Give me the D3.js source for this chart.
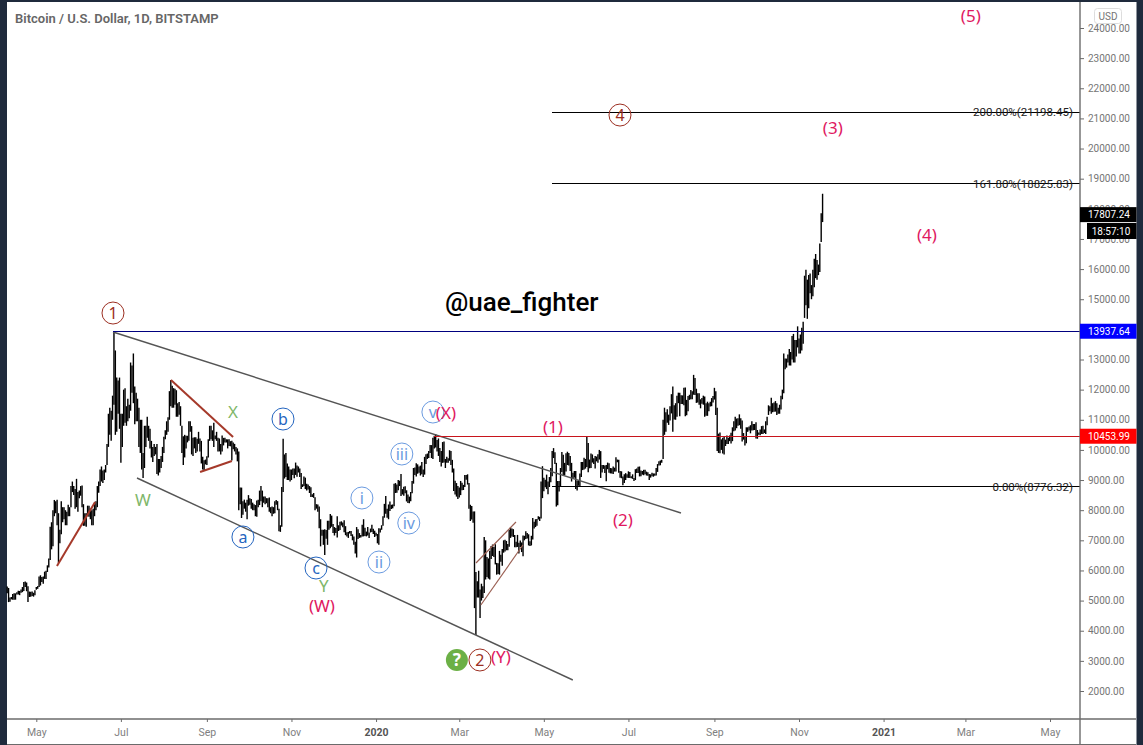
<!DOCTYPE html>
<html>

<head>
    <title>Bitcoin / U.S. Dollar, 1D, BITSTAMP</title>
    <script src="https://cdn.jsdelivr.net/npm/d3@7"></script>
    <style>
        html, body { margin: 0; padding: 0; background: #1f2a3c; }
        svg { display: block; }
        text { font-family: Roboto, sans-serif; }
        .mark { font-family: "Noto Sans", sans-serif; }
    </style>
</head>

<body>
    <svg></svg>
    <script>
        const width = 1143;
        const height = 745;

        // daily bars, one inner list per month
        const monthStarts = ["2019-04-10", "2019-05-01", "2019-06-01", "2019-07-01", "2019-08-01", "2019-09-01", "2019-10-01", "2019-11-01", "2019-12-01",
            "2020-01-01", "2020-02-01", "2020-03-01", "2020-04-01", "2020-05-01", "2020-06-01", "2020-07-01", "2020-08-01", "2020-09-01", "2020-10-01", "2020-11-01"];

        const monthHighs = [
            [5470, 5420, 5100, 5120, 5220, 5240, 5240, 5280, 5330, 5320, 5370, 5450, 5620, 5630, 5600, 5480, 5300, 5290, 5300, 5260, 5340],
            [5450, 5480, 5800, 5840, 5780, 5800, 5960, 5990, 6170, 6400, 7450, 7600, 8000, 8340, 8300, 8350, 7900, 7350, 8300, 8100, 8100, 8000, 7950, 8180, 8100, 8800, 8950, 8800, 8700, 9040, 8600],
            [8650, 8800, 8820, 8200, 7900, 7900, 8150, 8150, 8050, 8000, 8050, 8200, 8300, 8800, 8950, 9350, 9450, 9320, 9350, 9500, 10200, 11200, 11400, 11300, 11800, 13880, 13300, 12400, 12300, 12400],
            [11200, 11200, 12000, 12050, 11450, 11700, 11500, 12900, 12800, 13200, 12100, 11900, 11700, 11400, 11000, 11000, 9900, 10800, 10800, 11100, 10800, 10700, 10300, 10100, 10200, 10100, 10200, 9700, 9700, 9800, 10100],
            [10440, 10650, 10950, 11080, 11950, 12320, 12130, 12050, 12030, 11980, 11550, 11590, 11450, 10800, 10450, 10500, 10470, 10470, 10950, 10950, 10790, 10400, 10420, 10420, 10370, 10600, 10380, 10300, 9770, 9660, 9680],
            [9790, 10350, 10800, 10800, 10650, 10900, 10480, 10600, 10400, 10380, 10200, 10480, 10400, 10400, 10350, 10350, 10350, 10290, 10300, 10250, 10200, 10100, 10050, 9950, 8750, 8750, 8300, 8350, 8250, 8350],
            [8500, 8400, 8370, 8250, 8200, 8170, 8320, 8350, 8650, 8800, 8650, 8450, 8450, 8400, 8400, 8420, 8100, 8120, 8100, 8300, 8340, 8300, 8050, 7500, 8770, 10370, 9850, 9900, 9550, 9450, 9350],
            [9350, 9380, 9380, 9580, 9480, 9450, 9380, 9230, 8860, 9120, 9080, 8880, 8850, 8800, 8760, 8530, 8570, 8430, 8200, 8190, 8120, 7700, 7350, 7350, 7370, 7340, 7650, 7650, 7870, 7820],
            [7540, 7440, 7410, 7800, 7500, 7620, 7630, 7590, 7670, 7470, 7270, 7280, 7310, 7310, 7200, 7130, 6950, 7440, 7370, 7240, 7180, 7520, 7700, 7420, 7290, 7440, 7260, 7390, 7520, 7380, 7320],
            [7250, 7210, 7400, 7390, 7500, 7800, 8210, 8470, 8050, 8190, 8290, 8180, 8190, 8880, 8900, 8850, 9000, 8980, 9200, 8700, 8780, 8790, 8660, 8520, 8450, 8600, 8970, 9400, 9420, 9560, 9520],
            [9450, 9480, 9600, 9350, 9770, 9860, 9880, 9960, 10160, 10160, 10400, 10470, 10520, 10330, 10380, 10060, 9960, 10260, 10280, 9700, 9770, 9720, 9990, 9960, 9670, 9380, 8980, 8900, 8800],
            [8750, 8970, 8910, 8840, 9170, 9170, 9190, 8900, 8180, 8140, 7960, 7960, 5950, 5640, 5990, 5370, 5560, 5480, 7110, 7000, 6450, 6400, 6650, 6810, 6860, 6780, 6870, 6250, 6240, 6650, 6520],
            [6710, 7000, 7020, 6980, 6880, 7350, 7430, 7390, 7370, 7180, 6950, 7180, 6920, 6990, 6930, 7160, 7150, 7300, 7240, 7200, 6970, 7150, 7740, 7620, 7700, 7710, 7800, 7780, 8950, 9460],
            [9080, 9010, 9180, 8950, 9100, 9400, 9960, 10060, 9920, 9570, 8970, 8970, 9400, 9930, 9840, 9570, 9890, 9940, 9900, 9800, 9570, 9240, 9300, 9300, 8980, 8990, 9220, 9600, 9600, 9740, 9700],
            [10430, 10230, 9680, 9880, 9850, 9720, 9800, 9780, 9860, 10000, 9960, 9500, 9500, 9480, 9500, 9580, 9560, 9400, 9390, 9450, 9410, 9760, 9680, 9670, 9300, 9290, 9120, 9190, 9230, 9190],
            [9290, 9270, 9130, 9190, 9070, 9360, 9380, 9440, 9450, 9320, 9300, 9340, 9340, 9280, 9260, 9200, 9190, 9240, 9220, 9220, 9400, 9530, 9620, 9650, 9670, 11000, 11400, 11250, 11350, 11170, 11450],
            [11850, 12100, 11480, 11550, 11800, 11900, 11900, 11810, 11810, 12060, 12070, 11660, 11790, 11830, 11990, 11950, 12490, 12390, 12030, 11880, 11880, 11680, 11720, 11800, 11770, 11550, 11600, 11550, 11600, 11720, 11790],
            [12060, 11950, 11400, 10540, 10580, 10350, 10400, 10440, 10340, 10480, 10400, 10480, 10570, 10750, 10950, 11100, 11040, 11050, 11180, 11050, 10980, 10560, 10450, 10750, 10750, 10780, 10820, 10950, 10860, 10860],
            [10920, 10660, 10580, 10680, 10790, 10800, 10680, 10950, 11100, 11480, 11450, 11730, 11550, 11570, 11620, 11550, 11400, 11500, 11800, 12000, 13200, 13030, 13030, 13170, 13350, 13250, 13780, 13850, 13650, 13650, 14100],
            [13700, 13830, 14050, 14250, 15780, 15980, 15650, 15800, 15850, 15470, 15980, 16340, 16500, 16300, 16150, 16850, 17850, 18500]
        ];

        const monthLows = [
            [5240, 4950, 4960, 5040, 5030, 5030, 5030, 5200, 5200, 5180, 5260, 5280, 5320, 5450, 5310, 4950, 5120, 5130, 5150, 5130, 5180],
            [5360, 5390, 5450, 5500, 5620, 5560, 5720, 5720, 5950, 6100, 6350, 6700, 6800, 7800, 7900, 7500, 6250, 6900, 7200, 7600, 7700, 7500, 7500, 7800, 7800, 8100, 8600, 8500, 8050, 8100, 7950],
            [8400, 8480, 8100, 7480, 7480, 7450, 7800, 7780, 7700, 7500, 7500, 7800, 8000, 8100, 8580, 8800, 8950, 8900, 9000, 9250, 9500, 10100, 10500, 10300, 11000, 11500, 10500, 10600, 11200, 10700],
            [9570, 10100, 10800, 10900, 10800, 10950, 11050, 11300, 11900, 11550, 10850, 10950, 10950, 10100, 9900, 9350, 9070, 9400, 10100, 10400, 10300, 10050, 9750, 9600, 9800, 9850, 9200, 9150, 9250, 9400, 9600],
            [9900, 10350, 10500, 10600, 11000, 11450, 11400, 11400, 11500, 11100, 11100, 11170, 10800, 9900, 9500, 9750, 10050, 10250, 10300, 10600, 9850, 9800, 10050, 9900, 9950, 10200, 9950, 9550, 9350, 9330, 9520],
            [9500, 9750, 10300, 10350, 10300, 10100, 10350, 10300, 9950, 9950, 9850, 9950, 10150, 10250, 10250, 10050, 10130, 10120, 9650, 10020, 9950, 9850, 9620, 8000, 8200, 7740, 7850, 8050, 7950, 7700],
            [8150, 8180, 8050, 8000, 8000, 7800, 7780, 8100, 8170, 8300, 8100, 8250, 8200, 8230, 8100, 7950, 7900, 7800, 7880, 7900, 8180, 8000, 7300, 7280, 7450, 8600, 9050, 9100, 9000, 9000, 8950],
            [9000, 9170, 9060, 9170, 9110, 9250, 9100, 8700, 8770, 8800, 8700, 8650, 8690, 8570, 8440, 8440, 8410, 8000, 8050, 7950, 7400, 6800, 7150, 6850, 6510, 7050, 6850, 7350, 7400, 7450],
            [7240, 7160, 7240, 7090, 7310, 7340, 7490, 7430, 7270, 7170, 7130, 7080, 7230, 7140, 7000, 6850, 6560, 6430, 7040, 7080, 7090, 7130, 7130, 7140, 7130, 7160, 7080, 7260, 7280, 7210, 7110],
            [7150, 6900, 6850, 7260, 7350, 7480, 7750, 7880, 7750, 7700, 7970, 8040, 8060, 8130, 8570, 8580, 8660, 8800, 8470, 8520, 8480, 8560, 8290, 8240, 8230, 8300, 8560, 8880, 9170, 9120, 9210],
            [9240, 9150, 9190, 9100, 9180, 9530, 9700, 9730, 9900, 9730, 9700, 10050, 10080, 9950, 9800, 9600, 9450, 9570, 9580, 9400, 9570, 9570, 9640, 9500, 9250, 8640, 8520, 8450, 8370],
            [8420, 8500, 8660, 8670, 8770, 9010, 8850, 8050, 7640, 7690, 7580, 4750, 3860, 5100, 5100, 4420, 5000, 5090, 5250, 5700, 5780, 5730, 5700, 6380, 6480, 6450, 6200, 5860, 5880, 5860, 6290],
            [6160, 6590, 6630, 6670, 6670, 6790, 7080, 7130, 7110, 6770, 6770, 6780, 6560, 6780, 6610, 6470, 7000, 7040, 7060, 6830, 6810, 6830, 7030, 7390, 7440, 7480, 7690, 7640, 7720, 8400],
            [8630, 8760, 8700, 8530, 8770, 8930, 9130, 9730, 9530, 8120, 8160, 8620, 8800, 9270, 9150, 9160, 9280, 9500, 9480, 9300, 8950, 9040, 9080, 8700, 8650, 8810, 8800, 9100, 9330, 9350, 9380],
            [9430, 9260, 9390, 9400, 9580, 9530, 9380, 9620, 9570, 9680, 9070, 9250, 9370, 9230, 8960, 9360, 9240, 9220, 9220, 9200, 9280, 9280, 9590, 9240, 9080, 9060, 8830, 8900, 9000, 9080],
            [9070, 9070, 9060, 9040, 8970, 9000, 9230, 9230, 9120, 9130, 9180, 9160, 9190, 9150, 9140, 9000, 9080, 9130, 9110, 9140, 9150, 9270, 9480, 9490, 9570, 9700, 10500, 10600, 10900, 10830, 10980],
            [11210, 10600, 11010, 11000, 11100, 11550, 11120, 11520, 11520, 11480, 11120, 11150, 11280, 11660, 11680, 11680, 11830, 11820, 11560, 11570, 11500, 11380, 11530, 11500, 11100, 11130, 11130, 11280, 11440, 11450, 11570],
            [11670, 11160, 9960, 9900, 9890, 10000, 9880, 9850, 10130, 10200, 10200, 10290, 10210, 10290, 10620, 10640, 10720, 10800, 10820, 10700, 10280, 10340, 10150, 10220, 10600, 10640, 10550, 10640, 10650, 10660],
            [10380, 10370, 10500, 10490, 10530, 10530, 10560, 10530, 10820, 11160, 11280, 11200, 11250, 11270, 11270, 11160, 11200, 11200, 11340, 11680, 11880, 12680, 12730, 12900, 12800, 12800, 13000, 12900, 12900, 13100, 13400],
            [13200, 13200, 13300, 13520, 14380, 14800, 14350, 14700, 15200, 15000, 15100, 15400, 15700, 15650, 15800, 15900, 16900, 17560]
        ];

        const priceTicks = [24000, 23000, 22000, 21000, 20000, 19000, 18000, 17000, 16000, 15000, 14000, 13000, 12000, 11000, 10000, 9000, 8000, 7000, 6000, 5000, 4000, 3000, 2000];
        const timeTicks = ["2019-05-01", "2019-07-01", "2019-09-01", "2019-11-01", "2020-01-01", "2020-03-01", "2020-05-01", "2020-07-01", "2020-09-01", "2020-11-01", "2021-01-01", "2021-03-01", "2021-05-01"];
        const timeLabels = ["May", "Jul", "Sep", "Nov", "2020", "Mar", "May", "Jul", "Sep", "Nov", "2021", "Mar", "May"];

        // drawings: [day, price, day, price], days counted from 2019-05-01
        const channelLines = [[55.3, 13913, 464.9, 7907], [72.6, 9068, 386.9, 2365]];
        const patternLines = [[14.9, 6148, 42.4, 8271], [97.1, 12319, 141.9, 10428], [118.1, 9266, 141.05, 9631]];
        const wedgeLines = [[317.06, 6247, 345.9, 7607], [320.57, 4853, 350.9, 6844]];

        const levelPrices = [13937.64, 10453.99];
        const levelStarts = [55.3, 286.75];
        const fibPrices = [21198.45, 18825.83, 8776.32];
        const fibLabels = ["200.00%(21198.45)", "161.80%(18825.83)", "0.00%(8776.32)"];
        const fibStart = 371.8;

        // wave marks: text, day, price
        const pinkMarks = [["(5)", 673.9, 24397], ["(3)", 574.4, 20681], ["(4)", 642.2, 17130], ["(X)", 295.4, 11224], ["(1)", 372.5, 10760], ["(2)", 423, 7674], ["(W)", 206, 4820], ["(Y)", 335, 3128]];
        const greenMarks = [["X", 141.9, 11257], ["W", 76.9, 8337], ["Y", 207.4, 5484]];
        const brownCircles = [["1", 55.3, 14542], ["4", 420.9, 21112], ["2", 319.9, 3029]];
        const blueCircles = [["b", 177.9, 11025], ["a", 149, 7110], ["c", 201.7, 6081]];
        const paleCircles = [["i", 234.8, 8404], ["ii", 247.1, 6280], ["iii", 263.6, 9864], ["iv", 268.6, 7574], ["v", 286, 11257]];

        const parseDay = d3.utcParse("%Y-%m-%d");
        const dayZero = parseDay("2019-05-01");

        let bars = [];
        monthStarts.forEach((start, m) => {
            monthHighs[m].forEach((high, i) => {
                bars.push({ date: d3.utcDay.offset(parseDay(start), i), high: high, low: monthLows[m][i] });
            });
        });

        let xScale = d3.scaleUtc()
            .domain([dayZero, parseDay("2021-05-01")])
            .range([36.3, 1050]);

        let yScale = d3.scaleLinear()
            .domain([2000, 24000])
            .range([691, 28]);

        const xDay = (day) => xScale(new Date(+dayZero + day * 864e5));
        const plotRight = 1080;

        let svg = d3.select("svg")
            .attr("width", width)
            .attr("height", height);

        svg.append("rect")
            .attr("x", 7).attr("y", 2)
            .attr("width", 1129.5).attr("height", 743)
            .attr("fill", "#ffffff");

        // bars
        svg.append("g").selectAll("line")
            .data(bars)
            .enter()
            .append("line")
            .attr("x1", (d) => xScale(d.date))
            .attr("x2", (d) => xScale(d.date))
            .attr("y1", (d) => yScale(d.high))
            .attr("y2", (d) => yScale(d.low))
            .attr("stroke", "#000000")
            .attr("stroke-width", 1.4);

        function drawLines(rows, color, lineWidth) {
            svg.append("g").selectAll("line")
                .data(rows)
                .enter()
                .append("line")
                .attr("x1", (d) => xDay(d[0]))
                .attr("y1", (d) => yScale(d[1]))
                .attr("x2", (d) => xDay(d[2]))
                .attr("y2", (d) => yScale(d[3]))
                .attr("stroke", color)
                .attr("stroke-width", lineWidth);
        }

        drawLines(channelLines, "#555555", 1.4);
        drawLines(patternLines, "#a5392a", 2);
        drawLines(wedgeLines, "#9a5f52", 1.2);

        // horizontal levels
        const levelColors = ["#00007f", "#c8141c"];
        svg.append("g").selectAll("line")
            .data(levelPrices)
            .enter()
            .append("line")
            .attr("x1", (d, i) => xDay(levelStarts[i]))
            .attr("x2", plotRight)
            .attr("y1", (d) => yScale(d))
            .attr("y2", (d) => yScale(d))
            .attr("stroke", (d, i) => levelColors[i])
            .attr("stroke-width", 1)
            .attr("shape-rendering", "crispEdges");

        svg.append("g").selectAll("line")
            .data(fibPrices)
            .enter()
            .append("line")
            .attr("x1", xDay(fibStart))
            .attr("x2", plotRight)
            .attr("y1", (d) => yScale(d))
            .attr("y2", (d) => yScale(d))
            .attr("stroke", "#000000")
            .attr("stroke-width", 1)
            .attr("shape-rendering", "crispEdges");

        svg.append("g").selectAll("text")
            .data(fibPrices)
            .enter()
            .append("text")
            .attr("x", 1073)
            .attr("y", (d) => yScale(d))
            .attr("dy", "0.35em")
            .attr("text-anchor", "end")
            .attr("font-size", 11.5)
            .attr("fill", "#222222")
            .text((d, i) => fibLabels[i]);

        // axes
        let yAxis = d3.axisRight(yScale)
            .tickValues(priceTicks)
            .tickSize(4)
            .tickPadding(4)
            .tickFormat(d3.format(".2f"));

        let yG = svg.append("g")
            .attr("transform", "translate(" + plotRight + ",0)")
            .call(yAxis);
        yG.select(".domain").remove();
        yG.selectAll("line").attr("stroke", "#6b6b6b");
        yG.selectAll("text").attr("font-size", 10).attr("fill", "#757575").attr("font-family", "Roboto, sans-serif");

        let xAxis = d3.axisBottom(xScale)
            .tickValues(timeTicks.map(parseDay))
            .tickSize(3)
            .tickPadding(7)
            .tickFormat((d, i) => timeLabels[i]);

        let xG = svg.append("g")
            .attr("transform", "translate(0,719)")
            .call(xAxis);
        xG.select(".domain").remove();
        xG.selectAll("line").attr("stroke", "#6b6b6b");
        xG.selectAll("text")
            .attr("font-size", 10.5)
            .attr("font-family", "Roboto, sans-serif")
            .attr("fill", (d, i) => /^\d/.test(timeLabels[i]) ? "#555555" : "#808080")
            .attr("font-weight", (d, i) => /^\d/.test(timeLabels[i]) ? 700 : 400);

        svg.append("line")
            .attr("x1", plotRight).attr("x2", plotRight)
            .attr("y1", 2).attr("y2", 744)
            .attr("stroke", "#6b6b6b").attr("stroke-width", 1.4);
        svg.append("line")
            .attr("x1", 7).attr("x2", 1136)
            .attr("y1", 719).attr("y2", 719)
            .attr("stroke", "#6b6b6b").attr("stroke-width", 1.4);
        svg.append("line")
            .attr("x1", 7).attr("x2", 1136)
            .attr("y1", 744.5).attr("y2", 744.5)
            .attr("stroke", "#6b6b6b");

        // price tags
        const tagPrices = [17807.24, 13937.64, 10453.99];
        const tagColors = ["#000000", "#0000ff", "#ff0000"];
        svg.append("g").selectAll("rect")
            .data(tagPrices)
            .enter()
            .append("rect")
            .attr("x", plotRight)
            .attr("y", (d) => yScale(d) - 7.5)
            .attr("width", 56.5)
            .attr("height", 15)
            .attr("fill", (d, i) => tagColors[i]);
        svg.append("g").selectAll("text")
            .data(tagPrices)
            .enter()
            .append("text")
            .attr("x", 1088)
            .attr("y", (d) => yScale(d))
            .attr("dy", "0.36em")
            .attr("font-size", 10)
            .attr("fill", "#ffffff")
            .text((d) => d3.format(".2f")(d));

        svg.append("rect")
            .attr("x", 1087).attr("y", 223)
            .attr("width", 49.5).attr("height", 16)
            .attr("fill", "#000000");
        svg.append("text")
            .attr("x", 1111).attr("y", 231)
            .attr("dy", "0.36em")
            .attr("text-anchor", "middle")
            .attr("font-size", 10)
            .attr("fill", "#ffffff")
            .text("18:57:10");

        svg.append("rect")
            .attr("x", 1094.5).attr("y", 8.5)
            .attr("width", 27).attr("height", 15).attr("rx", 3)
            .attr("fill", "#ffffff").attr("stroke", "#dddddd");
        svg.append("text")
            .attr("x", 1108).attr("y", 16)
            .attr("dy", "0.36em")
            .attr("text-anchor", "middle")
            .attr("font-size", 10)
            .attr("fill", "#757575")
            .text("USD");

        svg.append("text")
            .attr("x", 15).attr("y", 23)
            .attr("font-size", 13)
            .attr("font-family", "Open Sans, sans-serif")
            .attr("font-weight", 600)
            .attr("fill", "#666666")
            .text("Bitcoin / U.S. Dollar, 1D, BITSTAMP");

        svg.append("text")
            .attr("x", xDay(294.7))
            .attr("y", yScale(14907))
            .attr("dy", "0.36em")
            .attr("font-size", 26)
            .attr("font-family", "Roboto, sans-serif")
            .attr("font-weight", 500)
            .attr("fill", "#000000")
            .text("@uae_fighter");

        // wave marks
        function drawCircles(rows, color) {
            let g = svg.append("g").selectAll("g")
                .data(rows)
                .enter()
                .append("g")
                .attr("transform", (d) => "translate(" + xDay(d[1]) + "," + yScale(d[2]) + ")");
            g.append("circle")
                .attr("r", 11)
                .attr("fill", "none")
                .attr("stroke", color)
                .attr("stroke-width", 1);
            g.append("text")
                .attr("class", "mark")
                .attr("dy", "0.35em")
                .attr("text-anchor", "middle")
                .attr("font-size", 16)
                .attr("fill", color)
                .text((d) => d[0]);
        }

        function drawMarks(rows, color) {
            svg.append("g").selectAll("text")
                .data(rows)
                .enter()
                .append("text")
                .attr("class", "mark")
                .attr("x", (d) => xDay(d[1]))
                .attr("y", (d) => yScale(d[2]))
                .attr("dy", "0.35em")
                .attr("text-anchor", "middle")
                .attr("font-size", 17)
                .attr("fill", color)
                .text((d) => d[0]);
        }

        drawCircles(brownCircles, "#9c2f22");
        drawCircles(blueCircles, "#2465c0");
        drawCircles(paleCircles, "#6b9be0");
        drawMarks(greenMarks, "#7fb76a");
        drawMarks(pinkMarks, "#e0185f");

        svg.append("circle")
            .attr("cx", xDay(303.3))
            .attr("cy", yScale(3029))
            .attr("r", 11)
            .attr("fill", "#6cb046");
        svg.append("text")
            .attr("class", "mark")
            .attr("x", xDay(303.3))
            .attr("y", yScale(3029))
            .attr("dy", "0.36em")
            .attr("text-anchor", "middle")
            .attr("font-size", 17)
            .attr("font-weight", 700)
            .attr("fill", "#ffffff")
            .text("?");
    </script>
</body>

</html>
